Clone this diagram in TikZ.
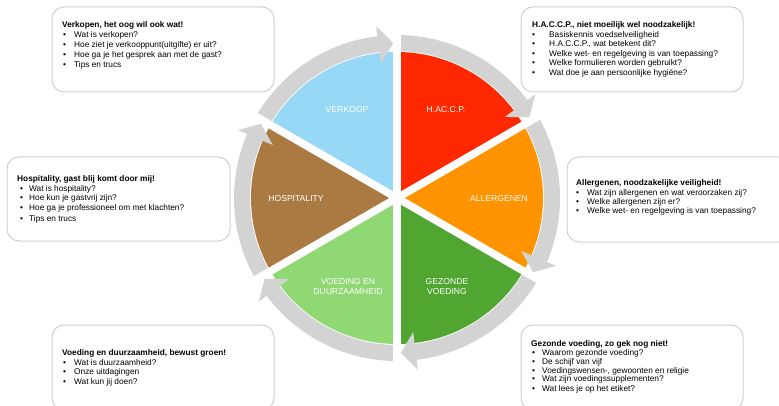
\documentclass[tikz,border=0pt]{standalone}
\usepackage{fontspec}
\setmainfont{Liberation Sans}
\definecolor{cverk}{RGB}{150,216,245}
\definecolor{chaccp}{RGB}{255,40,0}
\definecolor{callerg}{RGB}{255,148,0}
\definecolor{cgez}{RGB}{80,166,48}
\definecolor{cvoed}{RGB}{144,216,116}
\definecolor{chosp}{RGB}{170,122,66}
\definecolor{ringgray}{RGB}{211,211,211}
\definecolor{boxgray}{RGB}{208,208,208}
\newcommand\bul[1]{\makebox[#1pt][l]{\textbullet}}
\begin{document}
\begin{tikzpicture}[x=1pt,y=1pt,
  box/.style={draw=boxgray, line width=1pt, rounded corners=12pt, fill=white, inner sep=0pt, outer sep=0pt, anchor=south west},
  ttl/.style={anchor=base west, inner sep=0pt, font=\fontsize{8.3}{10}\selectfont\bfseries},
  itm/.style={anchor=base west, inner sep=0pt, font=\fontsize{8.3}{10}\selectfont},
  lbl/.style={text=white, align=center, font=\fontsize{8.6}{10}\selectfont, inner sep=0pt},
  ring/.style={fill=ringgray, draw=none},
  gapline/.style={draw=white, line width=7.6pt}
]
\useasboundingbox (0,0) rectangle (779,405);
\clip (0,0) rectangle (779,405);
\fill[white] (0,0) rectangle (779,405);
\coordinate (C) at (397,207);
% sectors
\fill[cverk]   (C) -- ++(90:146)  arc[start angle=90,  end angle=150, radius=146] -- cycle;
\fill[chaccp]  (C) -- ++(30:146)  arc[start angle=30,  end angle=90,  radius=146] -- cycle;
\fill[callerg] (C) -- ++(-30:146) arc[start angle=-30, end angle=30,  radius=146] -- cycle;
\fill[cgez]    (C) -- ++(-90:146) arc[start angle=-90, end angle=-30, radius=146] -- cycle;
\fill[cvoed]   (C) -- ++(210:146) arc[start angle=210, end angle=270, radius=146] -- cycle;
\fill[chosp]   (C) -- ++(150:146) arc[start angle=150, end angle=210, radius=146] -- cycle;
% circular arrows
\begin{scope}[shift={(C)}]
\foreach \a in {90,30,-30,-90,-150,150}{
  \fill[ring] ({\a+60}:147) arc[start angle={\a+60}, end angle={\a+6.9}, radius=147]
    -- ({\a+6.9}:135) -- ({\a+1.4}:155) -- ({\a+6.9}:173) -- ({\a+6.9}:163)
    arc[start angle={\a+6.9}, end angle={\a+60}, radius=163] -- cycle;
}
\end{scope}
% gaps
\foreach \a in {30,90,150,210,270,330}{
  \draw[gapline] (C) -- ++(\a:180);
}
% labels
\node[lbl] (l1) at (347,295) {VERKOOP};
\node[lbl] (l2) at (446,295) {H.AC.C.P.};
\node[lbl] (l3) at (499,206) {ALLERGENEN};
\node[lbl] (l4) at (447,118) {GEZONDE\\VOEDING};
\node[lbl] (l5) at (348,118) {VOEDING EN\\DUURZAAMHEID};
\node[lbl] (l6) at (296,206) {HOSPITALITY};
% boxes
\node[box, minimum width=222pt, minimum height=85pt] (b1) at (52,313) {};
\node[box, minimum width=222pt, minimum height=85pt] (b2) at (521,313) {};
\node[box, minimum width=223pt, minimum height=84pt] (b3) at (7,164) {};
\node[box, minimum width=223pt, minimum height=85pt] (b4) at (567,163) {};
\node[box, minimum width=222pt, minimum height=85pt] (b5) at (52,-5) {};
\node[box, minimum width=222pt, minimum height=85pt] (b6) at (521,-5) {};
% box 1
\node[ttl] (b1t) at (62,377.5) {Verkopen, het oog wil ook wat!};
\node[itm] (b1a) at (63,367.5) {\bul{11}Wat is verkopen?};
\node[itm] (b1b) at (63,357.5) {\bul{11}Hoe ziet je verkooppunt(uitgifte) er uit?};
\node[itm] (b1c) at (63,347.5) {\bul{11}Hoe ga je het gesprek aan met de gast?};
\node[itm] (b1d) at (63,337.5) {\bul{11}Tips en trucs};
% box 2
\node[ttl] (b2t) at (532,377) {H.A.C.C.P., niet moeilijk wel noodzakelijk!};
\node[itm] (b2a) at (532,367.5) {\bul{17}Basiskennis voedselveiligheid};
\node[itm] (b2b) at (532,358) {\bul{17}H.A.C.C.P., wat betekent dit?};
\node[itm] (b2c) at (532,348.5) {\bul{17}Welke wet- en regelgeving is van toepassing?};
\node[itm] (b2d) at (532,339) {\bul{17}Welke formulieren worden gebruikt?};
\node[itm] (b2e) at (532,329.5) {\bul{17}Wat doe je aan persoonlijke hygiëne?};
% box 3
\node[ttl] (b3t) at (17,223.2) {Hospitality, gast blij komt door mij!};
\node[itm] (b3a) at (20,213.2) {\bul{9}Wat is hospitality?};
\node[itm] (b3b) at (20,204.2) {\bul{9}Hoe kun je gastvrij zijn?};
\node[itm] (b3c) at (20,194.2) {\bul{9}Hoe ga je professioneel om met klachten?};
\node[itm] (b3d) at (20,184) {\bul{9}Tips en trucs};
% box 4
\node[ttl] (b4t) at (576,219.2) {Allergenen, noodzakelijke veiligheid!};
\node[itm] (b4a) at (576,209.8) {\bul{11}Wat zijn allergenen en wat veroorzaken zij?};
\node[itm] (b4b) at (576,200.8) {\bul{11}Welke allergenen zijn er?};
\node[itm] (b4c) at (576,191.8) {\bul{11}Welke wet- en regelgeving is van toepassing?};
% box 5
\node[ttl] (b5t) at (62,49.2) {Voeding en duurzaamheid, bewust groen!};
\node[itm] (b5a) at (63,39.8) {\bul{11}Wat is duurzaamheid?};
\node[itm] (b5b) at (63,30.2) {\bul{11}Onze uitdagingen};
\node[itm] (b5c) at (63,20.2) {\bul{11}Wat kun jij doen?};
% box 6
\node[ttl] (b6t) at (531,58.5) {Gezonde voeding, zo gek nog niet!};
\node[itm] (b6a) at (532,49.2) {\bul{10}Waarom gezonde voeding?};
\node[itm] (b6b) at (532,40.2) {\bul{10}De schijf van vijf};
\node[itm] (b6c) at (532,31.8) {\bul{10}Voedingswensen-, gewoonten en religie};
\node[itm] (b6d) at (532,23.2) {\bul{10}Wat zijn voedingssupplementen?};
\node[itm] (b6e) at (532,13.8) {\bul{10}Wat lees je op het etiket?};
\end{tikzpicture}
\end{document}
